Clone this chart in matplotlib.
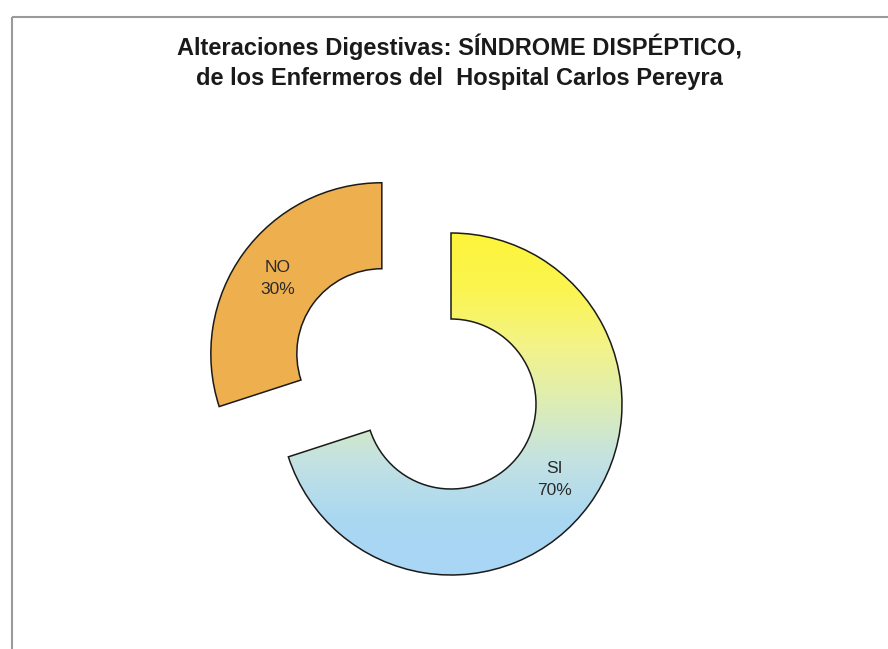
import numpy as np
import matplotlib
matplotlib.use("Agg")
import matplotlib.pyplot as plt
from matplotlib.colors import LinearSegmentedColormap

# ---- data ----
categories = ["SI", "NO"]
values = [70, 30]
title_lines = ["Alteraciones Digestivas: SÍNDROME DISPÉPTICO,",
               "de los Enfermeros del  Hospital Carlos Pereyra"]

# ---- style ----
W, H = 888, 649
no_color = "#EEB04E"
grad_colors = ["#A9D6F5", "#AAD8F2", "#C3E2E2", "#DDEDB5", "#F3F38A", "#FBF550", "#FDF43A"]

fig = plt.figure(figsize=(W / 100, H / 100), dpi=100)
fig.patch.set_facecolor("white")
ax = fig.add_axes([0, 0, 1, 1])

cx, cy = 451, H - 404
R = 171
ring = 86

labels = [f"{c}\n{v}%" for c, v in zip(categories, values)]
wedges, texts = ax.pie(
    values, labels=labels, startangle=90, counterclock=False,
    center=(cx, cy), radius=R, explode=[0, 0.5 * R],
    colors=["none", no_color], labeldistance=0.75,
    wedgeprops=dict(width=ring, edgecolor="#1a1a1a", linewidth=1.1),
    textprops=dict(ha="center", va="center", ma="center", fontsize=12.5,
                   color="#2a2a2a", family="Liberation Sans", linespacing=1.6),
)

# gradient fill for SI wedge
si = wedges[0]
cmap = LinearSegmentedColormap.from_list("g", grad_colors)
grad = np.linspace(0, 1, 256).reshape(-1, 1)
im = ax.imshow(grad, cmap=cmap, origin="lower", aspect="auto",
               extent=[cx - R, cx + R, cy - R, cy + R], zorder=0.5)
im.set_clip_path(si)
si.set_zorder(1)
for t in texts:
    t.set_zorder(3)

ax.set_xlim(0, W)
ax.set_ylim(0, H)
ax.set_aspect("auto")
ax.axis("off")

# frame lines (top and left)
ax.plot([12, W], [H - 17, H - 17], color="#9a9a9a", lw=1.5, solid_capstyle="butt")
ax.plot([12, 12], [0, H - 17], color="#9a9a9a", lw=1.5, solid_capstyle="butt")

# title
ax.text(459, H - 47, title_lines[0], ha="center", va="center", fontsize=17,
        fontweight="bold", family="Liberation Sans", color="#1a1a1a")
ax.text(459, H - 78, title_lines[1], ha="center", va="center", fontsize=17,
        fontweight="bold", family="Liberation Sans", color="#1a1a1a")

fig.savefig("out.png", dpi=100, facecolor="white")
